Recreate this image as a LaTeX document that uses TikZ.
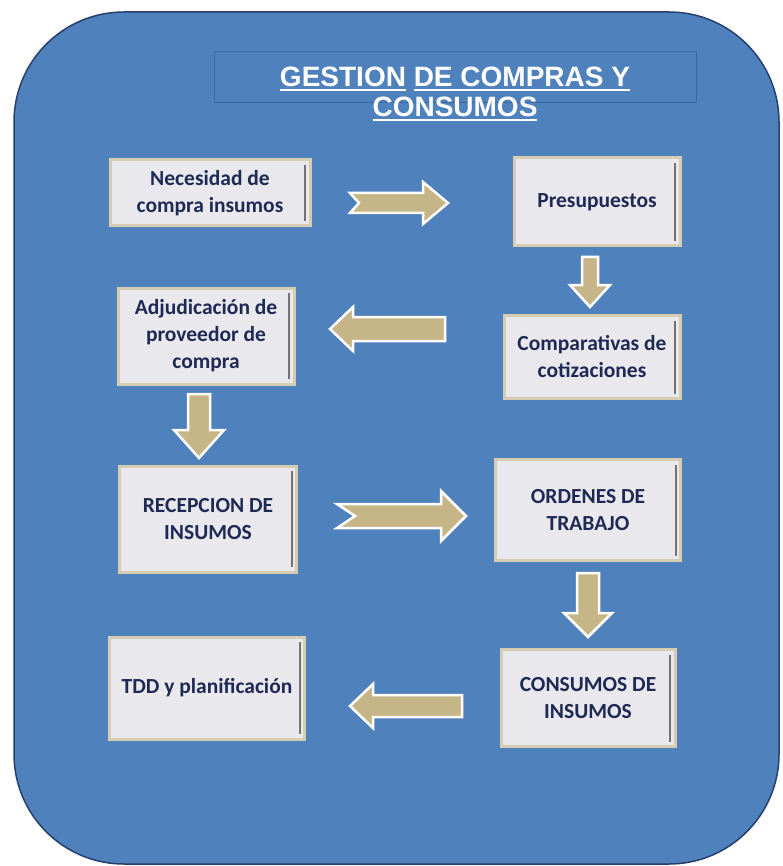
\documentclass[tikz,border=0pt]{standalone}
\usepackage{fontspec}
\newfontfamily\boxfont{Carlito}
\newfontfamily\titlefont{Liberation Sans}
\definecolor{bgblue}{RGB}{79,129,189}
\definecolor{bgline}{RGB}{38,64,110}
\definecolor{titleline}{RGB}{60,104,160}
\definecolor{tan}{RGB}{198,181,135}
\definecolor{boxfill}{RGB}{233,232,237}
\definecolor{boxborder}{RGB}{214,204,178}
\definecolor{boxtext}{RGB}{30,42,85}
\newcommand\myul[1]{\setbox0\hbox{#1}\rlap{\rule[-4pt]{\wd0}{2pt}}\box0\relax}
\newcommand\BlockArrow[7]{%
  \draw[blockarrow,#1] (#2) ++(0,-#4) -- ++({#3-#6},0) -- ++(0,{-(#5-#4)}) -- ++(#6,#5)
    -- ++(-#6,#5) -- ++(0,{-(#5-#4)}) -- ++({-(#3-#6)},0) -- ++(#7,-#4) -- cycle;}
\tikzset{
  stepbox/.style={draw=boxborder, line width=3pt, fill=boxfill, inner sep=2pt,
    align=center, text=boxtext, font=\boxfont\bfseries\fontsize{21.5}{27}\selectfont,
    path picture={\draw[line width=2pt, black!55]
      ([xshift=-5pt,yshift=-5pt]path picture bounding box.north east) --
      ([xshift=-5pt,yshift=5pt]path picture bounding box.south east);}},
  blockarrow/.style={fill=tan, draw=white, line width=2.5pt, line join=miter},
  titletext/.style={text=white, inner sep=0pt, font=\titlefont\bfseries\fontsize{28}{31}\selectfont}
}
\begin{document}
\begin{tikzpicture}[x=1pt,y=-1pt]
\useasboundingbox (0,0) rectangle (783,866);
\draw[fill=bgblue, draw=bgline, line width=1.5pt, rounded corners=110pt] (14,12) rectangle (779,864);
\node[draw=titleline, line width=1pt, minimum width=482pt, minimum height=51pt, inner sep=0pt] (tbox) at (455,77.5) {};
\node[titletext, anchor=base] (t1) at (455,87) {\myul{GESTION} \myul{DE COMPRAS Y}};
\node[titletext, anchor=base] (t2) at (455,117) {\myul{CONSUMOS}};

\node[stepbox, minimum width=200pt, minimum height=66pt] (nec) at (210,193) {Necesidad de\\compra insumos};
\node[stepbox, minimum width=166pt, minimum height=88pt] (pre) at (597,202) {Presupuestos};
\node[stepbox, minimum width=176pt, minimum height=96pt] (adj) at (206,336) {Adjudicación de\\proveedor de\\compra};
\node[stepbox, minimum width=176pt, minimum height=83pt] (com) at (592,357) {Comparativas de\\cotizaciones};
\node[stepbox, minimum width=177pt, minimum height=106pt] (rec) at (208,519) {RECEPCION DE\\INSUMOS};
\node[stepbox, minimum width=185pt, minimum height=101pt] (ord) at (588,510) {ORDENES DE\\TRABAJO};
\node[stepbox, minimum width=195pt, minimum height=102pt] (tdd) at (207,688) {TDD y planificación};
\node[stepbox, minimum width=174pt, minimum height=97pt] (con) at (588,698) {CONSUMOS DE\\INSUMOS};

\coordinate (a1) at (350,203);
\coordinate (a2) at (590,257);
\coordinate (a3) at (445,329);
\coordinate (a4) at (199,394);
\coordinate (a5) at (337,516);
\coordinate (a6) at (588,573);
\coordinate (a7) at (462,706);
\BlockArrow{}{a1}{98}{10}{21}{25}{9}
\BlockArrow{rotate=-90}{a2}{50}{8}{20}{22}{0}
\BlockArrow{xscale=-1}{a3}{115}{12}{22}{23}{0}
\BlockArrow{rotate=-90}{a4}{64}{11}{25}{28}{0}
\BlockArrow{}{a5}{129}{12}{25}{25}{18}
\BlockArrow{rotate=-90}{a6}{64}{11}{24}{24}{0}
\BlockArrow{xscale=-1}{a7}{112}{11}{22}{23}{0}
\end{tikzpicture}
\end{document}
